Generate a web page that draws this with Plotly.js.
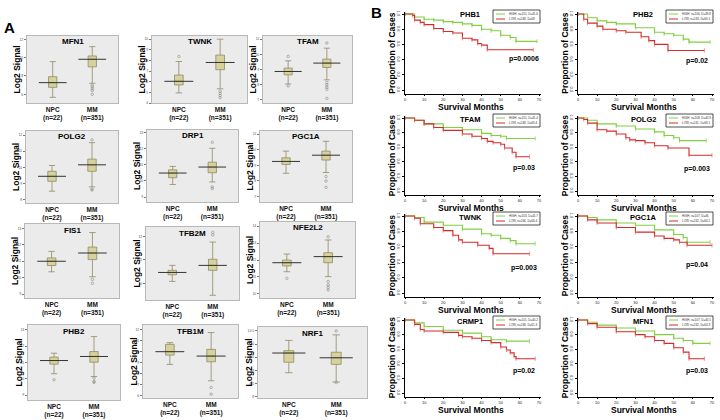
<!DOCTYPE html>
<html>
<head>
<meta charset="utf-8">
<script src="https://cdn.plot.ly/plotly-3.0.1.min.js"></script>
<style>
  body { margin: 0; background: #fff; }
  #fig { width: 720px; height: 420px; }
</style>
</head>
<body>
<div id="fig"></div>
<script>
// ---------- panel A : box plots (NPC vs MM) ----------
var boxGenes = ['MFN1', 'TWNK', 'TFAM', 'POLG2', 'DRP1', 'PGC1A', 'FIS1', 'TFB2M', 'NFE2L2', 'PHB2', 'TFB1M', 'NRF1'];
var groupLabels = ['<b>NPC</b><br><b>(n=22)</b>', '<b>MM</b><br><b>(n=351)</b>'];

var npcLow  = [5.67, 4.95, 8.05, 8.53, 9.78, 8.49, 10.36, 10.09, 11.31, 10.31, 8.86, 8.91];
var npcQ1   = [6.76, 5.70, 8.65, 9.14, 10.20, 9.06, 10.74, 10.37, 11.65, 10.90, 9.71, 9.31];
var npcMed  = [7.27, 6.04, 8.87, 9.45, 10.49, 9.25, 11.00, 10.47, 11.84, 11.12, 10.02, 9.66];
var npcQ3   = [7.92, 6.63, 9.09, 9.76, 10.69, 9.48, 11.20, 10.56, 12.00, 11.33, 10.69, 9.75];
var npcHigh = [9.56, 7.90, 9.57, 10.12, 10.90, 9.91, 11.60, 10.77, 12.35, 11.57, 10.84, 10.14];
var npcOut  = [[], [8.37], [9.86, 7.92], [], [], [], [], [], [10.92], [9.94], [], []];

var mmLow  = [7.20, 5.33, 8.32, 8.80, 9.94, 8.54, 10.06, 9.50, 11.02, 10.14, 7.37, 8.56];
var mmQ1   = [9.00, 7.13, 9.13, 9.76, 10.51, 9.34, 11.10, 10.56, 11.84, 11.02, 9.10, 9.23];
var mmMed  = [9.82, 7.81, 9.42, 10.16, 10.86, 9.65, 11.50, 10.77, 12.20, 11.37, 9.62, 9.48];
var mmQ3   = [10.18, 8.50, 9.68, 10.51, 11.16, 9.91, 11.86, 11.03, 12.43, 11.67, 10.23, 9.69];
var mmHigh = [11.20, 10.00, 10.40, 11.53, 12.02, 10.54, 12.74, 11.76, 13.18, 12.59, 11.76, 10.35];
var mmOut  = [[7.0, 6.8, 6.6, 6.4, 6.0], [5.1, 4.9, 4.7, 4.5], [10.74, 8.14, 7.99, 7.84, 7.7, 7.1],
              [11.7, 8.67, 8.6], [12.39, 9.63, 9.53], [8.28, 8.0, 7.59], [9.9, 9.66], [12.17, 12.07],
              [13.37, 10.73, 10.53, 10.39, 10.24], [10.04, 9.84, 9.78], [6.76, 6.15], [10.5, 8.54]];

var boxTicks = [[6, 8, 10, 12], [4, 5, 6, 7, 8, 9, 10], [7, 8, 9, 10, 11], [8, 9, 10, 11, 12], [9, 10, 11, 12, 13],
                [7, 8, 9, 10, 11], [9, 10, 11, 12, 13], [10, 11, 12], [10, 11, 12, 13, 14], [9, 10, 11, 12, 13],
                [6, 7, 8, 9, 10, 11, 12], [8.0, 8.5, 9.0, 9.5, 10.0, 10.5]];
var boxRanges = [[5.05, 12.36], [4.0, 10.3], [6.8, 11.2], [7.8, 12.25], [8.7, 13.15], [6.65, 11.2],
                 [8.77, 13.26], [9.3, 12.4], [9.76, 14.24], [8.7, 13.3], [5.8, 12.45], [7.95, 10.65]];

// ---------- panel B : Kaplan-Meier curves ----------
var kmGenes = ['PHB1', 'PHB2', 'TFAM', 'POLG2', 'TWNK', 'PGC1A', 'CRMP1', 'MFN1'];
var kmPvals = ['p=0.0006', 'p=0.02', 'p=0.03', 'p=0.003', 'p=0.003', 'p=0.04', 'p=0.02', 'p=0.03'];
var kmPvalY = [0.41, 0.38, 0.32, 0.30, 0.32, 0.37, 0.30, 0.30];

var greenT = [
  [0, 5, 10, 15, 20, 25, 30, 35, 40, 45, 50, 55, 58, 69],
  [0, 5, 10, 15, 20, 30, 40, 45, 50, 55, 58, 69],
  [0, 5, 10, 20, 30, 40, 45, 50, 53, 68],
  [0, 5, 10, 20, 30, 40, 45, 50, 53, 67],
  [0, 5, 10, 20, 30, 40, 45, 50, 55, 58, 68],
  [0, 5, 10, 20, 30, 40, 50, 55, 57, 69],
  [0, 5, 10, 20, 30, 40, 45, 53, 65],
  [0, 5, 10, 20, 30, 40, 50, 55, 60, 69]
];
var greenS = [
  [1, 0.96, 0.93, 0.92, 0.90, 0.89, 0.87, 0.85, 0.80, 0.78, 0.72, 0.69, 0.64, 0.64],
  [1, 0.95, 0.91, 0.89, 0.87, 0.82, 0.76, 0.74, 0.72, 0.67, 0.63, 0.63],
  [1, 0.97, 0.92, 0.87, 0.84, 0.79, 0.76, 0.75, 0.72, 0.72],
  [1, 0.97, 0.92, 0.89, 0.85, 0.81, 0.76, 0.73, 0.69, 0.69],
  [1, 0.98, 0.92, 0.88, 0.83, 0.77, 0.75, 0.71, 0.68, 0.64, 0.64],
  [1, 0.98, 0.95, 0.91, 0.88, 0.82, 0.76, 0.72, 0.66, 0.66],
  [1, 0.96, 0.91, 0.86, 0.82, 0.77, 0.73, 0.71, 0.71],
  [1, 0.97, 0.93, 0.89, 0.85, 0.80, 0.75, 0.72, 0.68, 0.68]
];
var redT = [
  [0, 4, 5, 8, 10, 15, 20, 25, 30, 35, 38, 40, 43, 67],
  [0, 3, 5, 10, 13, 20, 25, 33, 37, 40, 47, 66],
  [0, 5, 10, 15, 20, 30, 35, 40, 43, 46, 50, 52, 56, 58, 65],
  [0, 3, 5, 10, 15, 20, 25, 27, 30, 35, 40, 47, 58, 70],
  [0, 5, 8, 15, 20, 25, 28, 30, 38, 44, 46, 65],
  [0, 5, 10, 20, 30, 40, 45, 50, 53, 57, 70],
  [0, 5, 8, 10, 20, 28, 30, 35, 40, 45, 50, 53, 55, 57, 58, 68],
  [0, 5, 10, 20, 30, 35, 40, 45, 50, 55, 58, 66]
];
var redS = [
  [1, 0.98, 0.92, 0.89, 0.86, 0.81, 0.77, 0.75, 0.68, 0.66, 0.61, 0.59, 0.53, 0.53],
  [1, 0.93, 0.88, 0.84, 0.80, 0.78, 0.76, 0.70, 0.65, 0.60, 0.52, 0.52],
  [1, 0.97, 0.92, 0.87, 0.83, 0.78, 0.75, 0.72, 0.68, 0.66, 0.64, 0.59, 0.53, 0.47, 0.47],
  [1, 0.98, 0.93, 0.84, 0.82, 0.78, 0.73, 0.70, 0.69, 0.66, 0.62, 0.59, 0.49, 0.49],
  [1, 0.97, 0.90, 0.85, 0.81, 0.75, 0.69, 0.66, 0.62, 0.58, 0.51, 0.51],
  [1, 0.95, 0.91, 0.85, 0.79, 0.74, 0.71, 0.69, 0.66, 0.62, 0.62],
  [1, 0.94, 0.87, 0.85, 0.83, 0.79, 0.77, 0.75, 0.72, 0.69, 0.63, 0.59, 0.55, 0.50, 0.47, 0.47],
  [1, 0.95, 0.90, 0.84, 0.80, 0.77, 0.72, 0.68, 0.62, 0.56, 0.47, 0.47]
];
var greenLegend = ['HIGH, n=101, D=41.6', 'HIGH, n=106, D=39.8', 'HIGH, n=101, D=41.4', 'HIGH, n=108, D=40.9',
                   'HIGH, n=103, D=41.7', 'HIGH, n=107, D=46', 'HIGH, n=101, D=40.2', 'HIGH, n=107, D=40.5'];
var redLegend = ['LOW, n=248, D=68', 'LOW, n=243, D=66.1', 'LOW, n=248, D=69.4', 'LOW, n=241, D=68.1',
                 'LOW, n=246, D=66.4', 'LOW, n=242, D=66.1', 'LOW, n=248, D=61.3', 'LOW, n=242, D=64.3'];

// ---------- geometry (pixels in the 720x420 figure) ----------
var W = 720, H = 420;
function fx(p) { return p / W; }
function fy(p) { return 1 - p / H; }

// box panel frames: left, top, right, bottom
var boxFrames = [
  [27, 36, 118, 103], [152, 36, 247, 103], [263, 36, 352, 103],
  [26, 131, 118, 203], [147, 130, 238, 202], [260, 131, 352, 202],
  [25, 224, 119, 298], [146, 227, 239, 300], [260, 222, 355, 298],
  [28, 325, 120, 400], [143, 325, 238, 398], [258, 327, 367, 398]
];
// km panels: x pixel of month 0 and month 70, y pixel of 1.0 and 0.0
var kmCols = [[405, 539], [578, 712]];
var kmRows = [[14, 90], [118, 191], [216, 293], [320, 393]];
var KMX = [0, 71], KMY = [-0.05, 1.03];

var boldFont = 'Arial, "Liberation Sans", sans-serif';
var narrowFont = '"Liberation Sans Narrow", "Arial Narrow", Arial, sans-serif';

var data = [];
var layout = {
  width: W, height: H,
  margin: { l: 0, r: 0, t: 0, b: 0, pad: 0, autoexpand: false },
  paper_bgcolor: '#ffffff',
  plot_bgcolor: 'rgba(0,0,0,0)',
  showlegend: false,
  font: { family: boldFont, color: '#000' },
  shapes: [],
  annotations: []
};

function ann(x, y, text, size, extra) {
  var a = { xref: 'paper', yref: 'paper', x: fx(x), y: fy(y), text: text, showarrow: false,
            font: { size: size, family: boldFont, color: '#000' }, xanchor: 'center', yanchor: 'middle' };
  for (var k in extra) a[k] = extra[k];
  layout.annotations.push(a);
}

// panel letters
ann(9, 28, '<b>A</b>', 15);
ann(376, 12, '<b>B</b>', 15);

// ---- box plots ----
boxGenes.forEach(function(gene, i) {
  var n = i + 1, fr = boxFrames[i];
  var xa = 'x' + n, ya = 'y' + n;

  layout['xaxis' + n] = {
    domain: [fx(fr[0]), fx(fr[2])], anchor: ya, range: [-0.65, 1.65],
    tickvals: [0, 1], ticktext: groupLabels, ticks: '', tickangle: 0, showgrid: false, zeroline: false,
    showline: true, mirror: true, linecolor: '#b8b8b8', linewidth: 1, automargin: false,
    tickfont: { size: 6.5, family: boldFont, color: '#111' }, fixedrange: true
  };
  layout['yaxis' + n] = {
    domain: [fy(fr[3]), fy(fr[1])], anchor: xa, range: boxRanges[i],
    tickvals: boxTicks[i], ticks: 'outside', ticklen: 2, tickcolor: '#777', showgrid: false, zeroline: false,
    showline: true, mirror: true, linecolor: '#b8b8b8', linewidth: 1, automargin: false,
    tickfont: { size: 3.5, color: '#555' }, fixedrange: true
  };

  // grey panel background, tied to the subplot domain
  layout.shapes.push({ type: 'rect', xref: xa + ' domain', yref: ya + ' domain', layer: 'below',
    x0: 0, x1: 1, y0: 0, y1: 1, fillcolor: '#ebebeb', line: { width: 0 } });

  data.push({
    type: 'box', xaxis: xa, yaxis: ya, x: [0, 1],
    q1: [npcQ1[i], mmQ1[i]], median: [npcMed[i], mmMed[i]], q3: [npcQ3[i], mmQ3[i]],
    lowerfence: [npcLow[i], mmLow[i]], upperfence: [npcHigh[i], mmHigh[i]],
    width: 0.21, whiskerwidth: 0.75, boxpoints: false,
    fillcolor: '#d7d29c', line: { color: '#8e8a66', width: 0.8 }, hoverinfo: 'skip'
  });

  // long median bars
  data.push({
    type: 'scatter', mode: 'lines', xaxis: xa, yaxis: ya,
    x: [-0.35, 0.35, null, 0.65, 1.35], y: [npcMed[i], npcMed[i], null, mmMed[i], mmMed[i]],
    line: { color: '#333', width: 1 }, hoverinfo: 'skip'
  });

  // outliers
  var ox = [], oy = [];
  npcOut[i].forEach(function(v) { ox.push(0); oy.push(v); });
  mmOut[i].forEach(function(v) { ox.push(1); oy.push(v); });
  data.push({
    type: 'scatter', mode: 'markers', xaxis: xa, yaxis: ya, x: ox, y: oy,
    marker: { symbol: 'circle-open', size: 2.5, color: '#888', line: { width: 0.6 } }, hoverinfo: 'skip'
  });

  ann((fr[0] + fr[2]) / 2, fr[1] + 6, '<b>' + gene + '</b>', 8);
  ann(fr[0] - 10, (fr[1] + fr[3]) / 2, '<b>Log2 Signal</b>', 8.5,
      { textangle: -90, font: { size: 8.5, family: narrowFont, color: '#000' } });
});

// ---- Kaplan-Meier plots ----
kmGenes.forEach(function(gene, j) {
  var n = 13 + j;
  var col = kmCols[j % 2], row = kmRows[Math.floor(j / 2)];
  var xa = 'x' + n, ya = 'y' + n;
  var pxPerMonth = (col[1] - col[0]) / 70;
  var pxPerUnit = row[1] - row[0];
  var left = col[0] + KMX[0] * pxPerMonth, right = col[0] + KMX[1] * pxPerMonth;
  var top = row[1] - KMY[1] * pxPerUnit, bottom = row[1] - KMY[0] * pxPerUnit;

  layout['xaxis' + n] = {
    domain: [fx(left), fx(right)], anchor: ya, range: KMX,
    tickvals: [0, 10, 20, 30, 40, 50, 60, 70], ticks: 'outside', ticklen: 1.5, tickcolor: '#000', tickangle: 0,
    showline: true, linecolor: '#000', linewidth: 1, showgrid: false, zeroline: false, automargin: false,
    tickfont: { size: 4, color: '#222' }, fixedrange: true
  };
  layout['yaxis' + n] = {
    domain: [fy(bottom), fy(top)], anchor: xa, range: KMY,
    tickvals: [0, 0.2, 0.4, 0.6, 0.8, 1.0], ticktext: ['0.0', '0.2', '0.4', '0.6', '0.8', '1.0'],
    ticks: 'outside', ticklen: 2, tickcolor: '#000', tickangle: 90,
    showline: true, linecolor: '#000', linewidth: 1, showgrid: false, zeroline: false, automargin: false,
    tickfont: { size: 4, color: '#222' }, fixedrange: true
  };

  data.push({
    type: 'scatter', mode: 'lines+markers', xaxis: xa, yaxis: ya, x: greenT[j], y: greenS[j],
    line: { shape: 'hv', color: '#80d040', width: 1.1 },
    marker: { symbol: 'line-ns-open', size: 3, color: '#80d040', line: { width: 0.7, color: '#80d040' } },
    hoverinfo: 'skip'
  });
  data.push({
    type: 'scatter', mode: 'lines+markers', xaxis: xa, yaxis: ya, x: redT[j], y: redS[j],
    line: { shape: 'hv', color: '#d42a2a', width: 1.1 },
    marker: { symbol: 'line-ns-open', size: 3, color: '#e06060', line: { width: 0.7, color: '#e06060' } },
    hoverinfo: 'skip'
  });

  // titles
  ann(col[0] + 34 * pxPerMonth, row[0] + 1, '<b>' + gene + '</b>', 7.5);
  ann(col[0] + 62 * pxPerMonth, row[1] - kmPvalY[j] * pxPerUnit, '<b>' + kmPvals[j] + '</b>', 7);
  ann((left + right) / 2 - 2, bottom + 13, '<b>Survival Months</b>', 8.5,
      { font: { size: 8.5, family: narrowFont, color: '#000' } });
  ann(col[0] - 13, (top + bottom) / 2, '<b>Proportion of Cases</b>', 8.5,
      { textangle: -90, font: { size: 8.5, family: narrowFont, color: '#000' } });

  // legend box
  var lx = col[0] + 88, ly = row[0] - 4, lw = 47, lh = 13;
  layout.shapes.push({ type: 'rect', xref: 'paper', yref: 'paper',
    x0: fx(lx), x1: fx(lx + lw), y0: fy(ly + lh), y1: fy(ly),
    fillcolor: '#fff', line: { color: '#222', width: 0.8 } });
  layout.shapes.push({ type: 'line', xref: 'paper', yref: 'paper',
    x0: fx(lx + 3), x1: fx(lx + 12), y0: fy(ly + 4), y1: fy(ly + 4), line: { color: '#80d040', width: 1 } });
  layout.shapes.push({ type: 'line', xref: 'paper', yref: 'paper',
    x0: fx(lx + 3), x1: fx(lx + 12), y0: fy(ly + 9), y1: fy(ly + 9), line: { color: '#d42a2a', width: 1 } });
  ann(lx + 14, ly + 4, greenLegend[j], 3, { xanchor: 'left', font: { size: 3, color: '#333' } });
  ann(lx + 14, ly + 9, redLegend[j], 3, { xanchor: 'left', font: { size: 3, color: '#333' } });
});

Plotly.newPlot('fig', data, layout, { staticPlot: true, displayModeBar: false });
</script>
</body>
</html>
